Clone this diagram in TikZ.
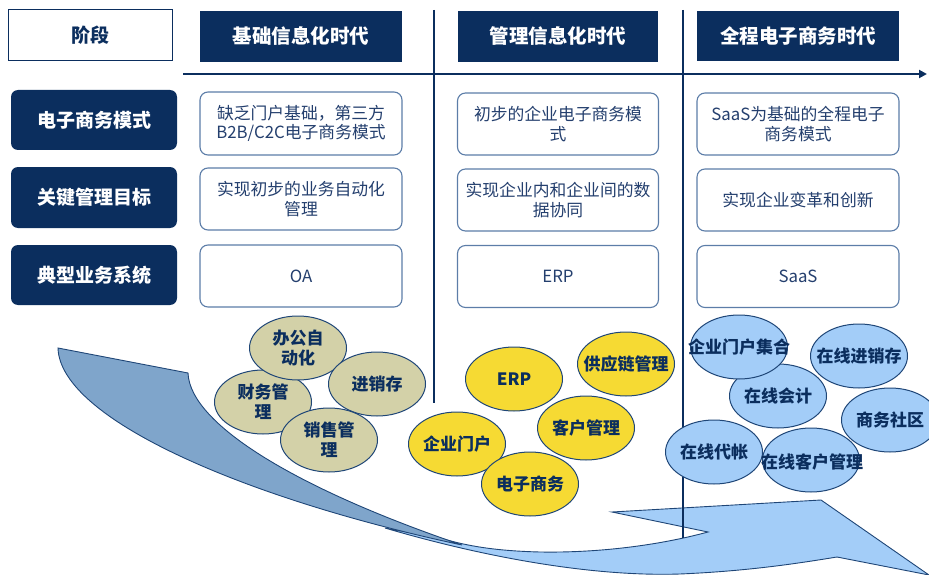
\documentclass[tikz,border=0pt]{standalone}
\usepackage{fontspec}
\setmainfont{Noto Sans CJK SC}
\usetikzlibrary{shapes.geometric,arrows.meta}
\definecolor{navy}{HTML}{0B2E5E}
\definecolor{txt}{HTML}{243F6E}
\definecolor{bord}{HTML}{5C7DA8}
\definecolor{beige}{HTML}{D3D1A8}
\definecolor{yel}{HTML}{F6DA33}
\definecolor{lblue}{HTML}{A3CDF8}
\definecolor{dblade}{HTML}{7FA5CB}
\definecolor{eline}{HTML}{1F4677}
\begin{document}
\begin{tikzpicture}[x=1pt,y=-1pt,
  hdr/.style={fill=navy, text=white, minimum width=202pt, minimum height=51pt, inner sep=0pt,
    font=\bfseries\fontsize{19.5}{22}\selectfont},
  stagebox/.style={draw=navy, line width=1pt, fill=white, text=navy, minimum width=164pt, minimum height=51pt,
    inner sep=0pt, font=\bfseries\fontsize{19}{22}\selectfont},
  rowlab/.style={fill=navy, text=white, rounded corners=7pt, minimum width=166pt, minimum height=60pt,
    inner sep=0pt, font=\bfseries\fontsize{19}{22}\selectfont},
  cbox/.style={draw=bord, line width=1.1pt, fill=white, text=txt, rounded corners=8pt, minimum width=202pt,
    minimum height=62pt, inner sep=0pt, align=center, font=\fontsize{16.8}{19.5}\selectfont},
  ell/.style={ellipse, draw=eline, line width=1pt, minimum width=97pt, minimum height=64pt, inner sep=0pt},
  etxt/.style={text=navy, align=center, inner sep=0pt, font=\bfseries\fontsize{17}{20}\selectfont},
  vline/.style={draw=navy, line width=2.2pt}
]
\useasboundingbox (0,0) rectangle (929,575);

% big curved arrow
\path[fill=lblue, draw=eline, line width=0.9pt]
  (385,528) .. controls (480,556) and (590,577) .. (680,574)
  .. controls (750,571) and (800,563) .. (837,557)
  -- (929,575) -- (821,500) -- (612,512) -- (708,532)
  .. controls (660,545) and (600,553) .. (540,552)
  .. controls (500,551) and (470,547) .. (440,538) -- cycle;
\path[fill=dblade, draw=eline, line width=0.9pt]
  (58,348) -- (188,373) .. controls (190,425) and (300,490) .. (462,545)
  .. controls (250,500) and (60,420) .. (58,348) -- cycle;

% axis lines
\coordinate (hs) at (183,74);
\coordinate (he) at (927,74);
\draw[vline, -{Triangle[length=8pt,width=8pt]}] (hs) -- (he);
\coordinate (v1a) at (434,10); \coordinate (v1b) at (434,403);
\coordinate (v2a) at (683,10); \coordinate (v2b) at (683,538);
\draw[vline] (v1a) -- (v1b);
\draw[vline] (v2a) -- (v2b);

% header row
\node[stagebox] (stage) at (90,35.5) {阶段};
\node[hdr] (h1) at (301,36.5) {基础信息化时代};
\node[hdr, minimum width=200pt] (h2) at (558,36.5) {管理信息化时代};
\node[hdr, minimum height=50pt] (h3) at (798,36) {全程电子商务时代};

% row labels
\node[rowlab] (r1) at (94,120) {电子商务模式};
\node[rowlab, minimum height=61pt] (r2) at (94,197.5) {关键管理目标};
\node[rowlab] (r3) at (94,275) {典型业务系统};

% content boxes
\node[cbox, minimum height=63pt] (c11) at (301,123.5) {缺乏门户基础，第三方\\B2B/C2C电子商务模式};
\node[cbox] (c21) at (301,199) {实现初步的业务自动化\\管理};
\node[cbox] (c31) at (301,276) {OA};
\node[cbox, minimum width=201pt] (c12) at (558,124) {初步的企业电子商务模\\式};
\node[cbox, minimum width=201pt] (c22) at (558,200) {实现企业内和企业间的数\\据协同};
\node[cbox, minimum width=201pt] (c32) at (558,276.5) {ERP};
\node[cbox] (c13) at (798,124) {SaaS为基础的全程电子\\商务模式};
\node[cbox] (c23) at (798,200) {实现企业变革和创新};
\node[cbox] (c33) at (798,276.5) {SaaS};

% beige ellipses
\node[ell, fill=beige] (b3) at (263,402) {};
\node[etxt] (b3t) at (b3) {财务管\\理};
\node[ell, fill=beige] (b1) at (298,348) {};
\node[etxt] (b1t) at (b1) {办公自\\动化};
\node[ell, fill=beige] (b2) at (377,384) {};
\node[etxt] (b2t) at (b2) {进销存};
\node[ell, fill=beige] (b4) at (329,440) {};
\node[etxt] (b4t) at (b4) {销售管\\理};

% yellow ellipses
\node[ell, fill=yel] (y1) at (457,444) {};
\node[etxt] (y1t) at (y1) {企业门户};
\node[ell, fill=yel] (y5) at (530,484) {};
\node[etxt] (y5t) at (y5) {电子商务};
\node[ell, fill=yel] (y2) at (514,379) {};
\node[etxt] (y2t) at (y2) {ERP};
\node[ell, fill=yel] (y3) at (626,364) {};
\node[etxt] (y3t) at (y3) {供应链管理};
\node[ell, fill=yel] (y4) at (586,428) {};
\node[etxt] (y4t) at (y4) {客户管理};

% light blue ellipses
\node[ell, fill=lblue] (l3) at (778,396) {};
\node[etxt] (l3t) at (l3) {在线会计};
\node[ell, fill=lblue] (l1) at (739,347) {};
\node[etxt] (l1t) at (l1) {企业门户集合};
\node[ell, fill=lblue] (l2) at (859,356) {};
\node[etxt] (l2t) at (l2) {在线进销存};
\node[ell, fill=lblue] (l4) at (890,420) {};
\node[etxt] (l4t) at (l4) {商务社区};
\node[ell, fill=lblue] (l5) at (714,452) {};
\node[etxt] (l5t) at (l5) {在线代帐};
\node[ell, fill=lblue] (l6) at (811,460) {};
\node[etxt] (l6t) at (812,462) {在线客户管理};
\end{tikzpicture}
\end{document}
